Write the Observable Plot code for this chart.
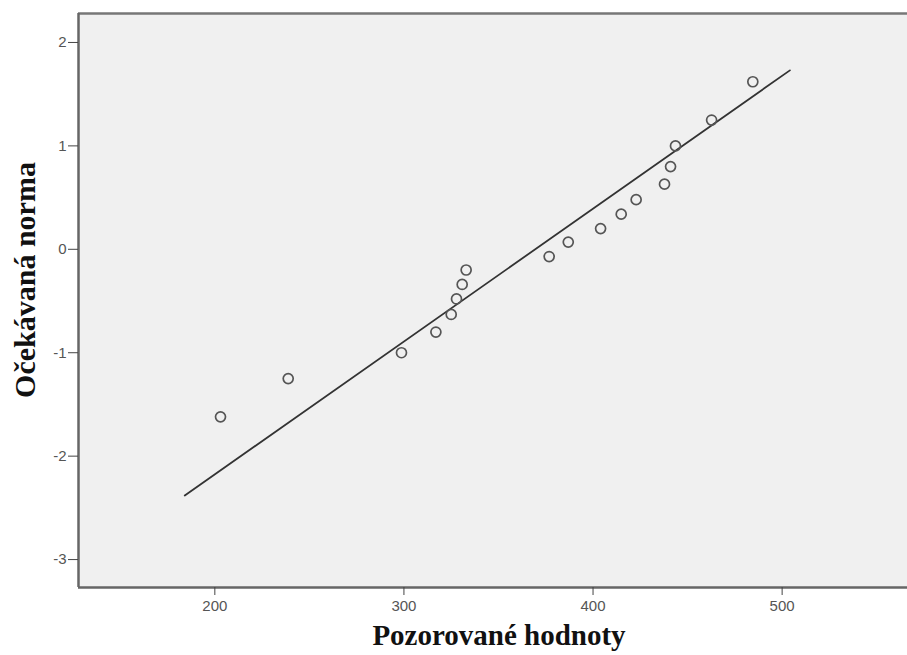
<!DOCTYPE html>
<html>
<head>
<meta charset="utf-8">
<script src="https://cdn.jsdelivr.net/npm/d3@7"></script>
<script src="https://cdn.jsdelivr.net/npm/@observablehq/plot@0.6"></script>
<style>
  body { margin: 0; background: #fff; }
  #chart { position: relative; width: 907px; height: 655px; }
</style>
</head>
<body>
<div id="chart"></div>
<script>
// Observed values (x) and expected normal values (y)
const observed = [203.0, 238.8, 298.7, 316.9, 325.0, 327.8, 330.8, 332.9, 376.8, 386.9, 404.0, 414.9, 422.8, 437.8, 441.0, 443.6, 462.7, 484.5];
const expected = [-1.62, -1.25, -1.00, -0.80, -0.63, -0.48, -0.34, -0.20, -0.07, 0.07, 0.20, 0.34, 0.48, 0.63, 0.80, 1.00, 1.25, 1.62];
// Reference line endpoints
const lineX = [184.1, 504.1];
const lineY = [-2.38, 1.73];
const xTicks = [200, 300, 400, 500];
const yTicks = [-3, -2, -1, 0, 1, 2];
const xDomain = [127.9, 566.3];
const yDomain = [-3.27, 2.28];
const xLabel = "Pozorované hodnoty";
const yLabel = "Očekávaná norma";

const points = observed.map((x, i) => ({x, y: expected[i]}));
const refLine = lineX.map((x, i) => ({x, y: lineY[i]}));
const yFmt = d => d < 0 ? "-" + Math.abs(d) : String(d);

const chart = Plot.plot({
  width: 907,
  height: 655,
  marginLeft: 78,
  marginTop: 13,
  marginBottom: 68,
  marginRight: 0,
  style: {fontFamily: "'Liberation Sans', Arial, sans-serif", fontSize: "15px", color: "#555", background: "#fff"},
  x: {domain: xDomain, label: null},
  y: {domain: yDomain, label: null},
  marks: [
    Plot.frame({fill: "#f0f0f0", stroke: null}),
    Plot.ruleY([yDomain[0]], {stroke: "#666", strokeWidth: 2.5}),
    Plot.ruleY([yDomain[1]], {stroke: "#777", strokeWidth: 2.5}),
    Plot.ruleX([xDomain[0]], {stroke: "#666", strokeWidth: 2.5}),
    Plot.axisX({ticks: xTicks, tickSize: 8, tickPadding: 5, stroke: "#444", color: "#555", fontSize: 15, tickFormat: d => String(d), label: null}),
    Plot.axisY({ticks: yTicks, tickSize: 10, tickPadding: 2, stroke: "#444", color: "#555", fontSize: 15, tickFormat: yFmt, label: null}),
    Plot.line(refLine, {x: "x", y: "y", stroke: "#333", strokeWidth: 1.8}),
    Plot.dot(points, {x: "x", y: "y", r: 5, stroke: "#555", strokeWidth: 1.7, fill: "none"})
  ]
});
document.getElementById("chart").appendChild(chart);

const svg = d3.select(chart);
svg.append("text")
  .attr("x", 499).attr("y", 645)
  .attr("text-anchor", "middle")
  .attr("font-family", "'Liberation Serif', 'Times New Roman', serif")
  .attr("font-weight", "bold")
  .attr("font-size", 29)
  .attr("fill", "#111")
  .text(xLabel);
svg.append("text")
  .attr("transform", "translate(35,280) rotate(-90)")
  .attr("text-anchor", "middle")
  .attr("font-family", "'Liberation Serif', 'Times New Roman', serif")
  .attr("font-weight", "bold")
  .attr("font-size", 30)
  .attr("fill", "#111")
  .text(yLabel);
</script>
</body>
</html>
